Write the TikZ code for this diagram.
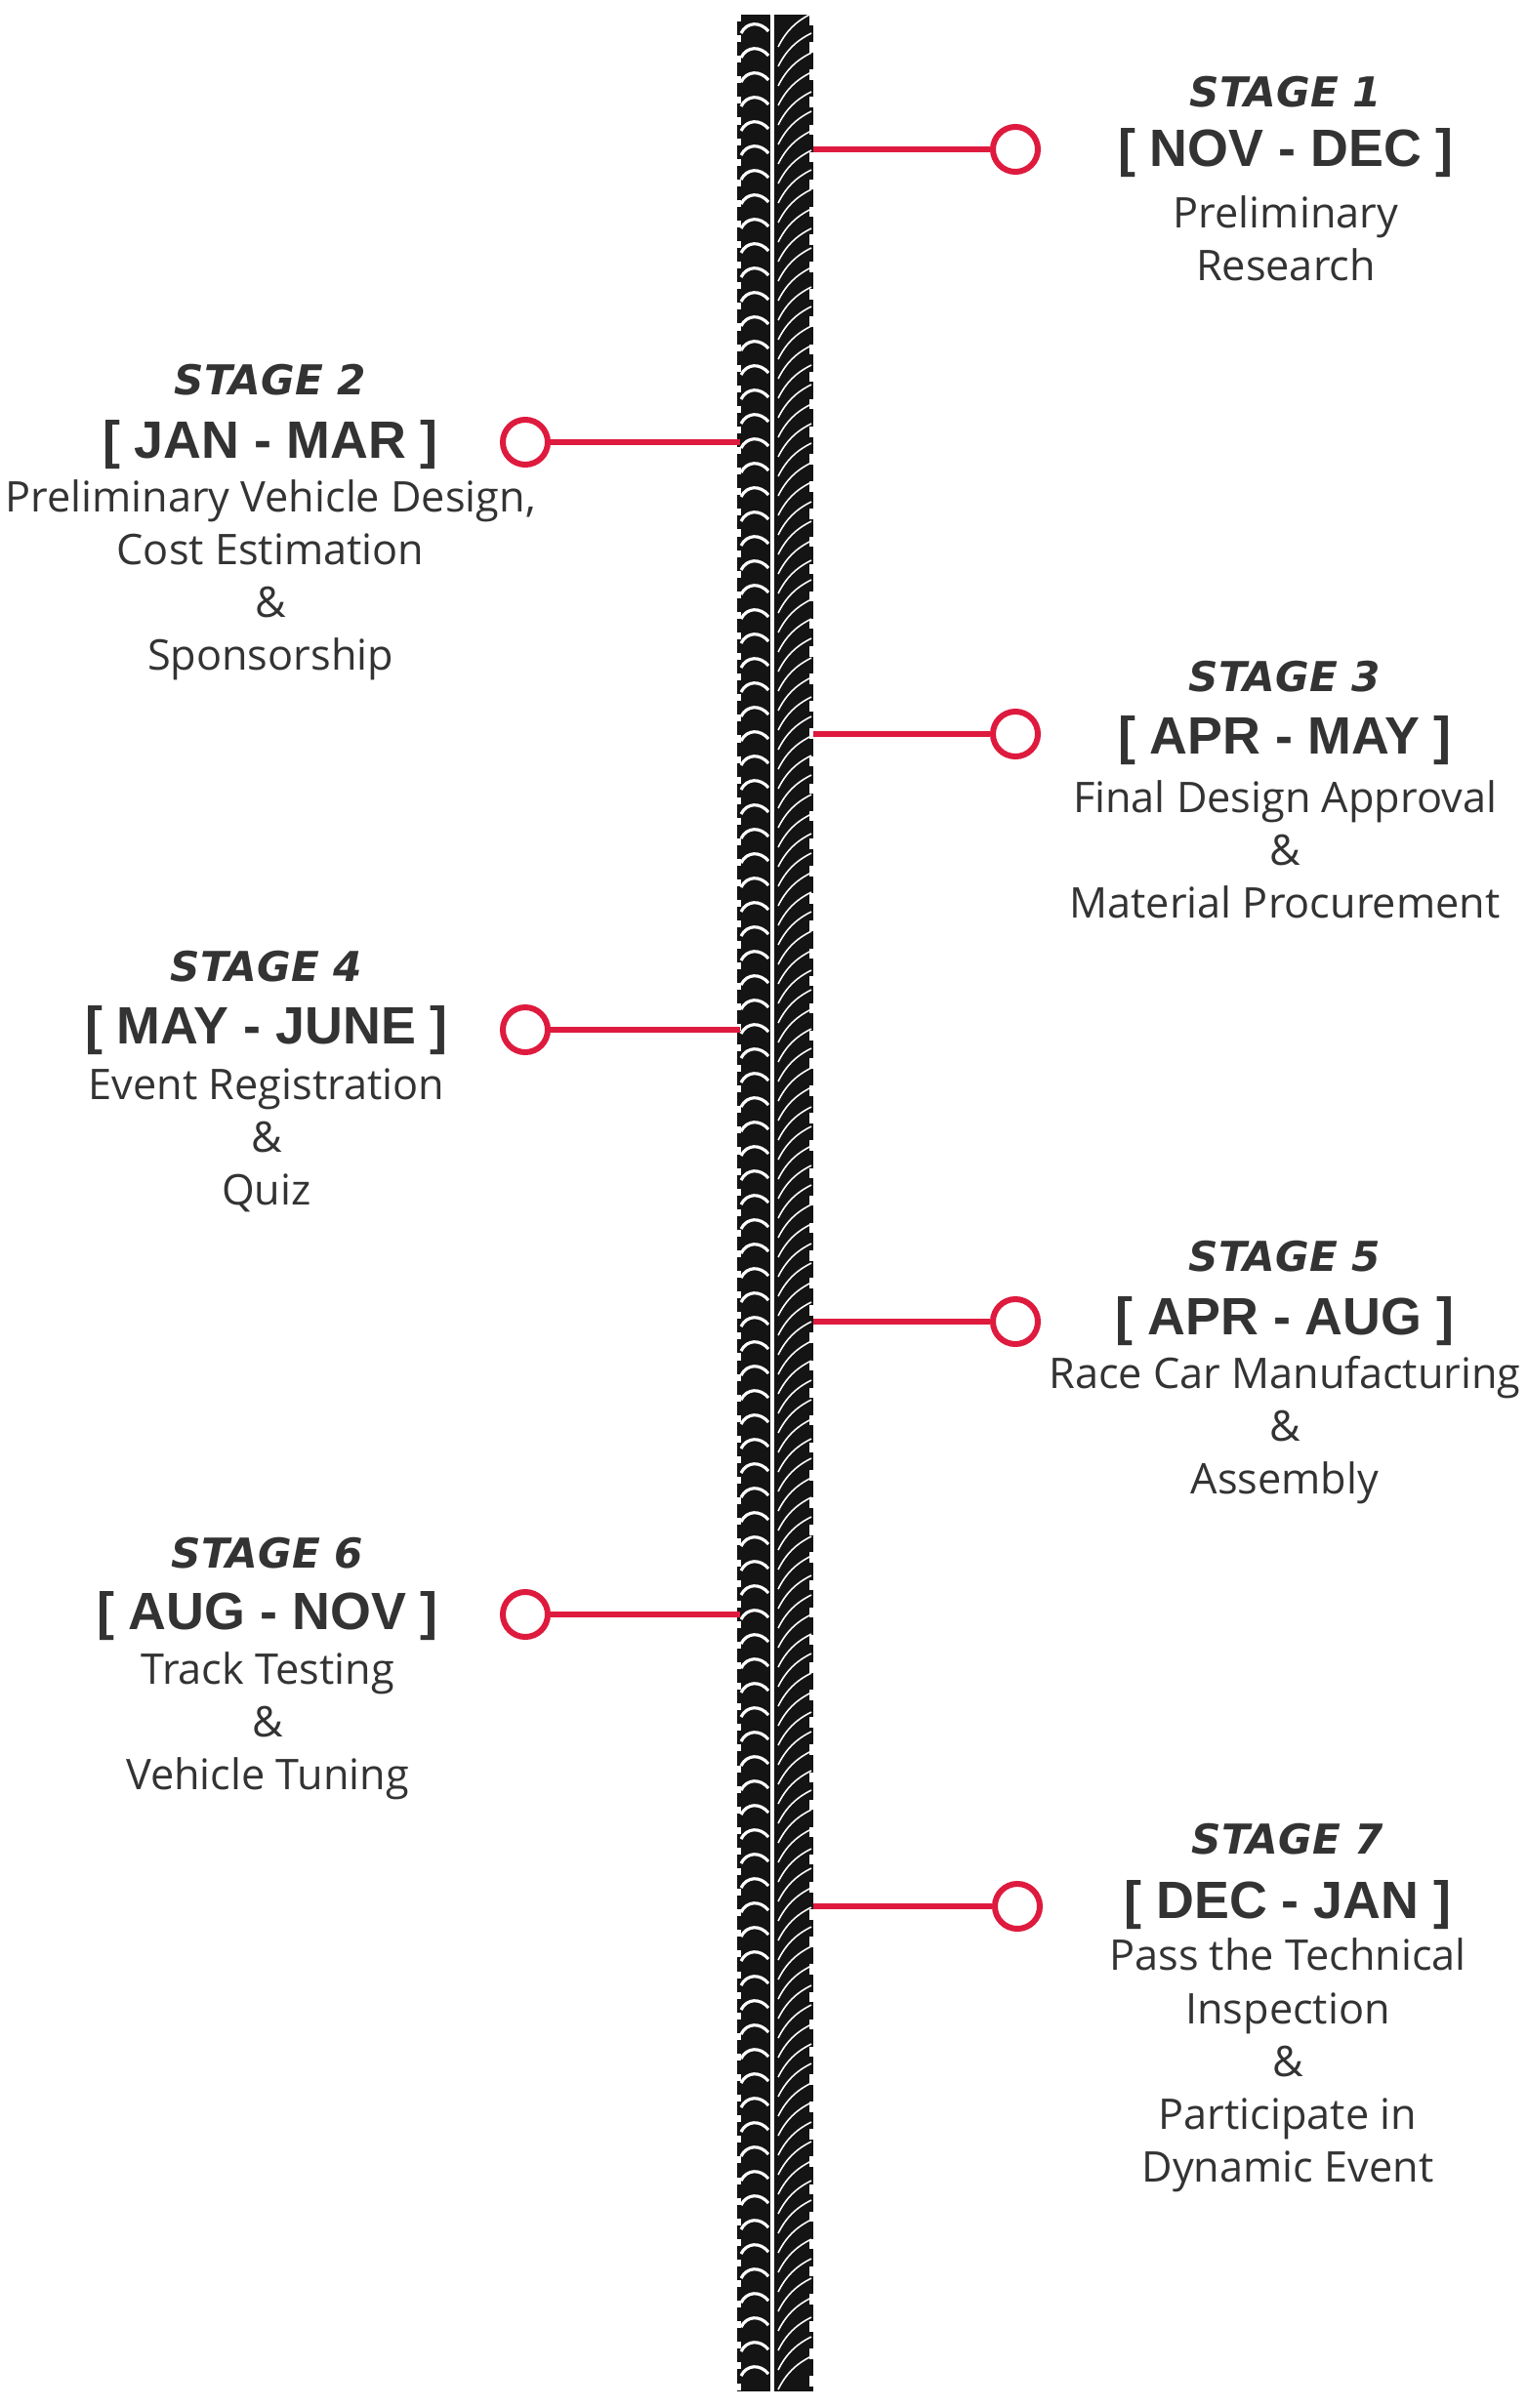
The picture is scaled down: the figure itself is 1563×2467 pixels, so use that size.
\documentclass[tikz,border=0pt]{standalone}
\usepackage{fontspec}
\setmainfont{Open Sans}
\newfontfamily\stagefont{DejaVu Sans}
\newfontfamily\monthfont{Liberation Sans}
\usepackage{xcolor}
\definecolor{Paper}{HTML}{FFFFFF}
\definecolor{Ink}{HTML}{333333}
\definecolor{Signal}{HTML}{DE1A3E}
\definecolor{Rubber}{HTML}{141414}

\begin{document}
\begin{tikzpicture}[x=0.01cm,y=-0.01cm,stagehead/.style={text=Ink,font=\stagefont\bfseries\itshape\fontsize{12}{14}\selectfont,inner sep=0pt},months/.style={text=Ink,font=\monthfont\bfseries\fontsize{15.3}{18}\selectfont,inner sep=0pt},body/.style={text=Ink,align=center,font=\fontsize{12.3}{15.4}\selectfont,inner sep=0pt},dot/.style={circle,draw=Signal,fill=Paper,line width=0.06cm,minimum size=0.46cm,inner sep=0pt},link/.style={draw=Signal,line width=0.055cm}]
\fill[Paper] (0,0) rectangle (1563,2467);
\fill[Rubber] (755,15) rectangle (833,2450);
\fill[Paper] (789,15) rectangle (793,2450);
\foreach \y in {25,50,...,2425} {\draw[Paper,line width=0.9pt] (759,\y+9) .. controls (765,\y-3) and (779,\y-3) .. (787,\y+7);}
\foreach \y in {20,40,...,2420} {\draw[Paper,line width=0.45pt] (797,\y+28) .. controls (805,\y+12) and (815,\y+2) .. (831,\y-6);}
\draw[Paper,line width=1.5pt,dash pattern=on 2pt off 4pt] (756,15) -- (756,2450); \draw[Paper,line width=1.5pt,dash pattern=on 3pt off 5pt] (832,15) -- (832,2450);
\foreach \n/\x/\y/\e in {1/1040/153/833,2/538/453/758,3/1040/752/833,4/538/1055/758,5/1040/1354/833,6/538/1654/758,7/1042/1953/833} {\node[dot] (c\n) at (\x,\y) {}; \coordinate (t\n) at (\e,\y); \draw[link] (t\n) -- (c\n);}
\node[stagehead] (h1) at (1317,94) {STAGE 1}; \node[months] (m1) at (1317,157) {[ NOV - DEC ]}; \node[body] (b1) at (1317,244) {Preliminary\\Research};
\node[stagehead] (h2) at (277,389) {STAGE 2}; \node[months] (m2) at (277,456) {[ JAN - MAR ]}; \node[body] (b2) at (277,594) {Preliminary Vehicle Design,\\Cost Estimation\\\&\\Sponsorship};
\node[stagehead] (h3) at (1316,693) {STAGE 3}; \node[months] (m3) at (1316,759) {[ APR - MAY ]}; \node[body] (b3) at (1316,870) {Final Design Approval\\\&\\Material Procurement};
\node[stagehead] (h4) at (273,990) {STAGE 4}; \node[months] (m4) at (273,1056) {[ MAY - JUNE ]}; \node[body] (b4) at (273,1168) {Event Registration\\\&\\Quiz};
\node[stagehead] (h5) at (1316,1287) {STAGE 5}; \node[months] (m5) at (1316,1354) {[ APR - AUG ]}; \node[body] (b5) at (1316,1465) {Race Car Manufacturing\\\&\\Assembly};
\node[stagehead] (h6) at (274,1591) {STAGE 6}; \node[months] (m6) at (274,1656) {[ AUG - NOV ]}; \node[body] (b6) at (274,1768) {Track Testing\\\&\\Vehicle Tuning};
\node[stagehead] (h7) at (1319,1884) {STAGE 7}; \node[months] (m7) at (1319,1952) {[ DEC - JAN ]}; \node[body] (b7) at (1319,2116) {Pass the Technical\\Inspection\\\&\\Participate in\\Dynamic Event};
\end{tikzpicture}
\end{document}
